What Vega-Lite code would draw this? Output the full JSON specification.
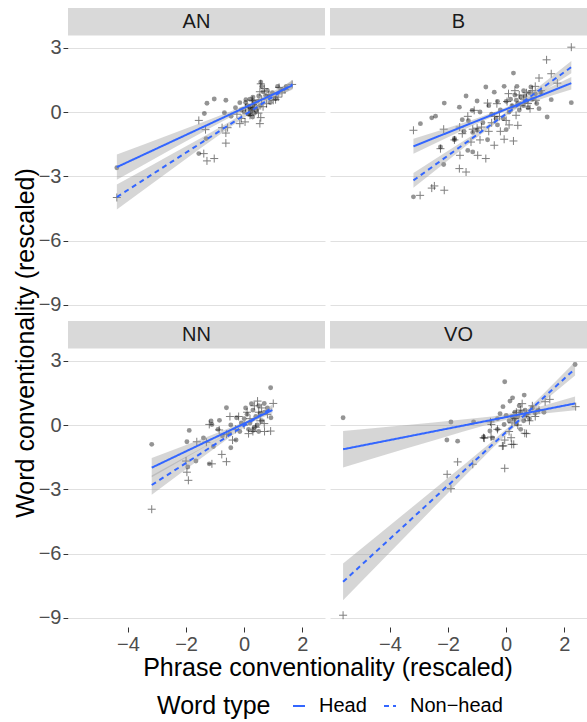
{
"$schema": "https://vega.github.io/schema/vega-lite/v6.json",
"background": "white",
"padding": {"left": 14, "top": 7, "right": 0, "bottom": 0},
"config": {
 "font": "Liberation Sans",
 "view": {"stroke": null},
 "axis": {"labelFont": "Liberation Sans", "labelFontSize": 20, "labelColor": "#4d4d4d", "tickColor": "#333333", "tickSize": 5, "tickWidth": 1, "domain": false, "gridColor": "#e0e0e0", "gridWidth": 1, "labelPadding": 2},
 "header": {"labels": false},
 "legend": {"labelFont": "Liberation Sans", "titleFont": "Liberation Sans"}
},
"title": {"text": "Word conventionality (rescaled)", "orient": "left", "anchor": "middle", "fontSize": 25, "fontWeight": "normal", "color": "black", "font": "Liberation Sans", "offset": -1, "dx": 20},
"data": {"values": [
 {"kind":"strip","panel":"AN"},{"kind":"strip","panel":"B"},{"kind":"strip","panel":"NN"},{"kind":"strip","panel":"VO"},

 {"kind":"fit","panel":"AN","type":"Head","x":-4.38,"y":-2.57,"lo":-3.155,"hi":-1.985},
 {"kind":"fit","panel":"AN","type":"Head","x":-3.5,"y":-2.014,"lo":-2.49,"hi":-1.538},
 {"kind":"fit","panel":"AN","type":"Head","x":-2.5,"y":-1.382,"lo":-1.736,"hi":-1.028},
 {"kind":"fit","panel":"AN","type":"Head","x":-1.5,"y":-0.75,"lo":-0.986,"hi":-0.514},
 {"kind":"fit","panel":"AN","type":"Head","x":-0.5,"y":-0.118,"lo":-0.251,"hi":0.015},
 {"kind":"fit","panel":"AN","type":"Head","x":0.2,"y":0.325,"lo":0.225,"hi":0.425},
 {"kind":"fit","panel":"AN","type":"Head","x":1.0,"y":0.83,"lo":0.688,"hi":0.972},
 {"kind":"fit","panel":"AN","type":"Head","x":1.66,"y":1.247,"lo":1.038,"hi":1.456},
 {"kind":"fit","panel":"AN","type":"Non-head","x":-4.38,"y":-3.97,"lo":-4.555,"hi":-3.385},
 {"kind":"fit","panel":"AN","type":"Non-head","x":-3.5,"y":-3.202,"lo":-3.678,"hi":-2.726},
 {"kind":"fit","panel":"AN","type":"Non-head","x":-2.5,"y":-2.329,"lo":-2.683,"hi":-1.975},
 {"kind":"fit","panel":"AN","type":"Non-head","x":-1.5,"y":-1.457,"lo":-1.693,"hi":-1.221},
 {"kind":"fit","panel":"AN","type":"Non-head","x":-0.5,"y":-0.584,"lo":-0.717,"hi":-0.451},
 {"kind":"fit","panel":"AN","type":"Non-head","x":0.2,"y":0.026,"lo":-0.074,"hi":0.126},
 {"kind":"fit","panel":"AN","type":"Non-head","x":1.0,"y":0.724,"lo":0.582,"hi":0.866},
 {"kind":"fit","panel":"AN","type":"Non-head","x":1.66,"y":1.3,"lo":1.091,"hi":1.509},

 {"kind":"fit","panel":"B","type":"Head","x":-3.19,"y":-1.6,"lo":-1.95,"hi":-1.25},
 {"kind":"fit","panel":"B","type":"Head","x":-2.2,"y":-1.062,"lo":-1.304,"hi":-0.82},
 {"kind":"fit","panel":"B","type":"Head","x":-1.2,"y":-0.519,"lo":-0.658,"hi":-0.38},
 {"kind":"fit","panel":"B","type":"Head","x":-0.2,"y":0.024,"lo":-0.056,"hi":0.104},
 {"kind":"fit","panel":"B","type":"Head","x":0.8,"y":0.567,"lo":0.428,"hi":0.706},
 {"kind":"fit","panel":"B","type":"Head","x":1.6,"y":1.001,"lo":0.781,"hi":1.221},
 {"kind":"fit","panel":"B","type":"Head","x":2.24,"y":1.349,"lo":1.059,"hi":1.639},
 {"kind":"fit","panel":"B","type":"Non-head","x":-3.19,"y":-3.19,"lo":-3.54,"hi":-2.84},
 {"kind":"fit","panel":"B","type":"Non-head","x":-2.2,"y":-2.226,"lo":-2.468,"hi":-1.984},
 {"kind":"fit","panel":"B","type":"Non-head","x":-1.2,"y":-1.252,"lo":-1.391,"hi":-1.113},
 {"kind":"fit","panel":"B","type":"Non-head","x":-0.2,"y":-0.278,"lo":-0.358,"hi":-0.198},
 {"kind":"fit","panel":"B","type":"Non-head","x":0.8,"y":0.696,"lo":0.557,"hi":0.835},
 {"kind":"fit","panel":"B","type":"Non-head","x":1.6,"y":1.475,"lo":1.255,"hi":1.695},
 {"kind":"fit","panel":"B","type":"Non-head","x":2.24,"y":2.1,"lo":1.81,"hi":2.39},

 {"kind":"fit","panel":"NN","type":"Head","x":-3.18,"y":-1.99,"lo":-2.44,"hi":-1.54},
 {"kind":"fit","panel":"NN","type":"Head","x":-2.2,"y":-1.355,"lo":-1.675,"hi":-1.035},
 {"kind":"fit","panel":"NN","type":"Head","x":-1.2,"y":-0.707,"lo":-0.9,"hi":-0.514},
 {"kind":"fit","panel":"NN","type":"Head","x":-0.4,"y":-0.189,"lo":-0.294,"hi":-0.084},
 {"kind":"fit","panel":"NN","type":"Head","x":0.1,"y":0.135,"lo":0.055,"hi":0.215},
 {"kind":"fit","panel":"NN","type":"Head","x":0.97,"y":0.699,"lo":0.557,"hi":0.841},
 {"kind":"fit","panel":"NN","type":"Non-head","x":-3.18,"y":-2.8,"lo":-3.25,"hi":-2.35},
 {"kind":"fit","panel":"NN","type":"Non-head","x":-2.2,"y":-1.945,"lo":-2.265,"hi":-1.625},
 {"kind":"fit","panel":"NN","type":"Non-head","x":-1.2,"y":-1.073,"lo":-1.266,"hi":-0.88},
 {"kind":"fit","panel":"NN","type":"Non-head","x":-0.4,"y":-0.376,"lo":-0.481,"hi":-0.271},
 {"kind":"fit","panel":"NN","type":"Non-head","x":0.1,"y":0.06,"lo":-0.02,"hi":0.14},
 {"kind":"fit","panel":"NN","type":"Non-head","x":0.97,"y":0.819,"lo":0.677,"hi":0.961},

 {"kind":"fit","panel":"VO","type":"Head","x":-5.61,"y":-1.13,"lo":-1.985,"hi":-0.275},
 {"kind":"fit","panel":"VO","type":"Head","x":-4.5,"y":-0.833,"lo":-1.531,"hi":-0.135},
 {"kind":"fit","panel":"VO","type":"Head","x":-3.5,"y":-0.565,"lo":-1.122,"hi":-0.008},
 {"kind":"fit","panel":"VO","type":"Head","x":-2.5,"y":-0.297,"lo":-0.715,"hi":0.121},
 {"kind":"fit","panel":"VO","type":"Head","x":-1.5,"y":-0.029,"lo":-0.313,"hi":0.255},
 {"kind":"fit","panel":"VO","type":"Head","x":-0.5,"y":0.239,"lo":0.073,"hi":0.405},
 {"kind":"fit","panel":"VO","type":"Head","x":0.3,"y":0.454,"lo":0.334,"hi":0.574},
 {"kind":"fit","panel":"VO","type":"Head","x":1.3,"y":0.722,"lo":0.535,"hi":0.909},
 {"kind":"fit","panel":"VO","type":"Head","x":2.37,"y":1.009,"lo":0.689,"hi":1.329},
 {"kind":"fit","panel":"VO","type":"Non-head","x":-5.61,"y":-7.32,"lo":-8.175,"hi":-6.465},
 {"kind":"fit","panel":"VO","type":"Non-head","x":-4.5,"y":-5.936,"lo":-6.634,"hi":-5.238},
 {"kind":"fit","panel":"VO","type":"Non-head","x":-3.5,"y":-4.689,"lo":-5.246,"hi":-4.132},
 {"kind":"fit","panel":"VO","type":"Non-head","x":-2.5,"y":-3.442,"lo":-3.86,"hi":-3.024},
 {"kind":"fit","panel":"VO","type":"Non-head","x":-1.5,"y":-2.194,"lo":-2.478,"hi":-1.91},
 {"kind":"fit","panel":"VO","type":"Non-head","x":-0.5,"y":-0.947,"lo":-1.113,"hi":-0.781},
 {"kind":"fit","panel":"VO","type":"Non-head","x":0.3,"y":0.05,"lo":-0.07,"hi":0.17},
 {"kind":"fit","panel":"VO","type":"Non-head","x":1.3,"y":1.298,"lo":1.111,"hi":1.485},
 {"kind":"fit","panel":"VO","type":"Non-head","x":2.37,"y":2.632,"lo":2.312,"hi":2.952},

 {"kind":"pt","panel":"AN","type":"Head","x":-4.38,"y":-2.6},{"kind":"pt","panel":"AN","type":"Head","x":-1.28,"y":0.41},{"kind":"pt","panel":"AN","type":"Head","x":-1.03,"y":0.61},{"kind":"pt","panel":"AN","type":"Head","x":-0.63,"y":0.55},{"kind":"pt","panel":"AN","type":"Head","x":-1.37,"y":-0.07},{"kind":"pt","panel":"AN","type":"Head","x":-1.56,"y":-1.94},{"kind":"pt","panel":"AN","type":"Head","x":-1.31,"y":-1.24},{"kind":"pt","panel":"AN","type":"Head","x":-0.68,"y":-0.03},{"kind":"pt","panel":"AN","type":"Head","x":-0.15,"y":0.44},{"kind":"pt","panel":"AN","type":"Head","x":0.06,"y":0.58},{"kind":"pt","panel":"AN","type":"Head","x":0.2,"y":0.6},{"kind":"pt","panel":"AN","type":"Head","x":0.31,"y":0.52},{"kind":"pt","panel":"AN","type":"Head","x":0.57,"y":1.4},{"kind":"pt","panel":"AN","type":"Head","x":0.6,"y":1.2},{"kind":"pt","panel":"AN","type":"Head","x":1.15,"y":1.2},{"kind":"pt","panel":"AN","type":"Head","x":0.4,"y":0.08},{"kind":"pt","panel":"AN","type":"Head","x":0.74,"y":0.78},{"kind":"pt","panel":"AN","type":"Head","x":0.86,"y":0.72},{"kind":"pt","panel":"AN","type":"Head","x":0.97,"y":0.9},{"kind":"pt","panel":"AN","type":"Head","x":1.08,"y":0.65},{"kind":"pt","panel":"AN","type":"Head","x":0.0,"y":0.0},{"kind":"pt","panel":"AN","type":"Head","x":0.17,"y":0.24},{"kind":"pt","panel":"AN","type":"Head","x":0.29,"y":-0.23},{"kind":"pt","panel":"AN","type":"Head","x":0.1,"y":0.3},{"kind":"pt","panel":"AN","type":"Head","x":0.35,"y":0.35},{"kind":"pt","panel":"AN","type":"Head","x":0.45,"y":0.5},{"kind":"pt","panel":"AN","type":"Head","x":0.25,"y":0.1},{"kind":"pt","panel":"AN","type":"Head","x":0.5,"y":0.75},{"kind":"pt","panel":"AN","type":"Head","x":0.65,"y":0.95},{"kind":"pt","panel":"AN","type":"Head","x":0.8,"y":1.0},{"kind":"pt","panel":"AN","type":"Head","x":1.3,"y":1.05},{"kind":"pt","panel":"AN","type":"Head","x":1.45,"y":1.2},{"kind":"pt","panel":"AN","type":"Head","x":-0.3,"y":0.2},{"kind":"pt","panel":"AN","type":"Head","x":0.15,"y":-0.1},{"kind":"pt","panel":"AN","type":"Head","x":0.35,"y":-0.05},{"kind":"pt","panel":"AN","type":"Head","x":0.55,"y":0.3},{"kind":"pt","panel":"AN","type":"Head","x":0.9,"y":0.45},{"kind":"pt","panel":"AN","type":"Head","x":-0.1,"y":0.1},{"kind":"pt","panel":"AN","type":"Head","x":0.05,"y":0.45},{"kind":"pt","panel":"AN","type":"Head","x":0.3,"y":0.7},{"kind":"pt","panel":"AN","type":"Head","x":-0.45,"y":-0.2},{"kind":"pt","panel":"AN","type":"Head","x":0.2,"y":-0.1},{"kind":"pt","panel":"AN","type":"Head","x":0.25,"y":0.2},{"kind":"pt","panel":"AN","type":"Head","x":0.3,"y":0.15},{"kind":"pt","panel":"AN","type":"Head","x":0.22,"y":0.02},
 {"kind":"pt","panel":"AN","type":"Non-head","x":-4.38,"y":-3.99},{"kind":"pt","panel":"AN","type":"Non-head","x":-1.56,"y":-0.39},{"kind":"pt","panel":"AN","type":"Non-head","x":-1.33,"y":-0.82},{"kind":"pt","panel":"AN","type":"Non-head","x":-1.39,"y":-1.94},{"kind":"pt","panel":"AN","type":"Non-head","x":-1.28,"y":-2.28},{"kind":"pt","panel":"AN","type":"Non-head","x":-1.03,"y":-2.17},{"kind":"pt","panel":"AN","type":"Non-head","x":-0.63,"y":-1.45},{"kind":"pt","panel":"AN","type":"Non-head","x":-0.63,"y":-0.98},{"kind":"pt","panel":"AN","type":"Non-head","x":-0.76,"y":-0.73},{"kind":"pt","panel":"AN","type":"Non-head","x":-0.57,"y":-0.73},{"kind":"pt","panel":"AN","type":"Non-head","x":-0.15,"y":-0.54},{"kind":"pt","panel":"AN","type":"Non-head","x":0.03,"y":-0.46},{"kind":"pt","panel":"AN","type":"Non-head","x":0.54,"y":-0.54},{"kind":"pt","panel":"AN","type":"Non-head","x":0.57,"y":-0.26},{"kind":"pt","panel":"AN","type":"Non-head","x":0.49,"y":-0.05},{"kind":"pt","panel":"AN","type":"Non-head","x":0.29,"y":0.55},{"kind":"pt","panel":"AN","type":"Non-head","x":0.54,"y":0.95},{"kind":"pt","panel":"AN","type":"Non-head","x":0.57,"y":1.32},{"kind":"pt","panel":"AN","type":"Non-head","x":1.08,"y":0.58},{"kind":"pt","panel":"AN","type":"Non-head","x":1.65,"y":1.29},{"kind":"pt","panel":"AN","type":"Non-head","x":0.77,"y":0.39},{"kind":"pt","panel":"AN","type":"Non-head","x":1.0,"y":0.55},{"kind":"pt","panel":"AN","type":"Non-head","x":1.17,"y":0.7},{"kind":"pt","panel":"AN","type":"Non-head","x":0.15,"y":0.1},{"kind":"pt","panel":"AN","type":"Non-head","x":0.35,"y":0.2},{"kind":"pt","panel":"AN","type":"Non-head","x":0.6,"y":0.6},{"kind":"pt","panel":"AN","type":"Non-head","x":0.85,"y":0.8},{"kind":"pt","panel":"AN","type":"Non-head","x":1.3,"y":0.9},{"kind":"pt","panel":"AN","type":"Non-head","x":1.4,"y":1.05},{"kind":"pt","panel":"AN","type":"Non-head","x":0.2,"y":-0.15},{"kind":"pt","panel":"AN","type":"Non-head","x":-0.1,"y":-0.3},{"kind":"pt","panel":"AN","type":"Non-head","x":0.45,"y":0.15},{"kind":"pt","panel":"AN","type":"Non-head","x":0.7,"y":1.1},{"kind":"pt","panel":"AN","type":"Non-head","x":1.2,"y":1.15},{"kind":"pt","panel":"AN","type":"Non-head","x":0.05,"y":0.2},{"kind":"pt","panel":"AN","type":"Non-head","x":0.3,"y":0.35},{"kind":"pt","panel":"AN","type":"Non-head","x":0.65,"y":0.25},{"kind":"pt","panel":"AN","type":"Non-head","x":-0.25,"y":-0.1},

 {"kind":"pt","panel":"B","type":"Head","x":-3.19,"y":-3.96},{"kind":"pt","panel":"B","type":"Head","x":-2.95,"y":-0.54},{"kind":"pt","panel":"B","type":"Head","x":-2.56,"y":-0.27},{"kind":"pt","panel":"B","type":"Head","x":-2.43,"y":-0.19},{"kind":"pt","panel":"B","type":"Head","x":-2.13,"y":0.42},{"kind":"pt","panel":"B","type":"Head","x":-1.61,"y":0.23},{"kind":"pt","panel":"B","type":"Head","x":-1.38,"y":0.75},{"kind":"pt","panel":"B","type":"Head","x":-1.17,"y":0.08},{"kind":"pt","panel":"B","type":"Head","x":-1.0,"y":0.52},{"kind":"pt","panel":"B","type":"Head","x":-0.7,"y":1.17},{"kind":"pt","panel":"B","type":"Head","x":-0.41,"y":0.93},{"kind":"pt","panel":"B","type":"Head","x":-0.07,"y":1.2},{"kind":"pt","panel":"B","type":"Head","x":0.25,"y":1.82},{"kind":"pt","panel":"B","type":"Head","x":0.37,"y":1.2},{"kind":"pt","panel":"B","type":"Head","x":0.6,"y":1.0},{"kind":"pt","panel":"B","type":"Head","x":0.85,"y":1.17},{"kind":"pt","panel":"B","type":"Head","x":1.55,"y":0.58},{"kind":"pt","panel":"B","type":"Head","x":2.24,"y":0.44},{"kind":"pt","panel":"B","type":"Head","x":1.41,"y":-0.23},{"kind":"pt","panel":"B","type":"Head","x":1.13,"y":0.16},{"kind":"pt","panel":"B","type":"Head","x":-2.26,"y":-1.63},{"kind":"pt","panel":"B","type":"Head","x":-2.15,"y":-2.45},{"kind":"pt","panel":"B","type":"Head","x":-1.78,"y":-1.3},{"kind":"pt","panel":"B","type":"Head","x":-1.51,"y":-0.36},{"kind":"pt","panel":"B","type":"Head","x":-1.32,"y":-1.79},{"kind":"pt","panel":"B","type":"Head","x":-1.15,"y":-1.86},{"kind":"pt","panel":"B","type":"Head","x":-0.64,"y":-1.29},{"kind":"pt","panel":"B","type":"Head","x":-0.35,"y":-0.31},{"kind":"pt","panel":"B","type":"Head","x":0.0,"y":-0.82},{"kind":"pt","panel":"B","type":"Head","x":-1.0,"y":-0.85},{"kind":"pt","panel":"B","type":"Head","x":-1.15,"y":-0.95},{"kind":"pt","panel":"B","type":"Head","x":-1.78,"y":-1.23},{"kind":"pt","panel":"B","type":"Head","x":-0.6,"y":0.3},{"kind":"pt","panel":"B","type":"Head","x":-0.3,"y":0.5},{"kind":"pt","panel":"B","type":"Head","x":0.0,"y":0.5},{"kind":"pt","panel":"B","type":"Head","x":0.2,"y":0.3},{"kind":"pt","panel":"B","type":"Head","x":0.4,"y":0.4},{"kind":"pt","panel":"B","type":"Head","x":0.5,"y":0.7},{"kind":"pt","panel":"B","type":"Head","x":0.7,"y":0.5},{"kind":"pt","panel":"B","type":"Head","x":0.9,"y":0.6},{"kind":"pt","panel":"B","type":"Head","x":1.0,"y":0.85},{"kind":"pt","panel":"B","type":"Head","x":0.3,"y":0.8},{"kind":"pt","panel":"B","type":"Head","x":0.6,"y":0.3},{"kind":"pt","panel":"B","type":"Head","x":0.8,"y":0.9},{"kind":"pt","panel":"B","type":"Head","x":0.15,"y":0.6},{"kind":"pt","panel":"B","type":"Head","x":-0.2,"y":0.1},{"kind":"pt","panel":"B","type":"Head","x":0.45,"y":0.1},{"kind":"pt","panel":"B","type":"Head","x":0.65,"y":0.75},{"kind":"pt","panel":"B","type":"Head","x":1.2,"y":0.9},{"kind":"pt","panel":"B","type":"Head","x":0.35,"y":0.55},{"kind":"pt","panel":"B","type":"Head","x":-0.8,"y":-0.5},{"kind":"pt","panel":"B","type":"Head","x":-0.5,"y":-0.1},{"kind":"pt","panel":"B","type":"Head","x":-0.9,"y":0.0},{"kind":"pt","panel":"B","type":"Head","x":-1.3,"y":-0.4},{"kind":"pt","panel":"B","type":"Head","x":-0.1,"y":-0.3},{"kind":"pt","panel":"B","type":"Head","x":0.1,"y":0.0},{"kind":"pt","panel":"B","type":"Head","x":0.75,"y":0.2},{"kind":"pt","panel":"B","type":"Head","x":1.05,"y":0.4},{"kind":"pt","panel":"B","type":"Head","x":-1.45,"y":-0.9},{"kind":"pt","panel":"B","type":"Head","x":-0.3,"y":-0.6},
 {"kind":"pt","panel":"B","type":"Non-head","x":2.24,"y":3.03},{"kind":"pt","panel":"B","type":"Non-head","x":1.39,"y":2.44},{"kind":"pt","panel":"B","type":"Non-head","x":1.55,"y":1.79},{"kind":"pt","panel":"B","type":"Non-head","x":1.13,"y":1.59},{"kind":"pt","panel":"B","type":"Non-head","x":1.76,"y":1.35},{"kind":"pt","panel":"B","type":"Non-head","x":-3.19,"y":-0.85},{"kind":"pt","panel":"B","type":"Non-head","x":-2.15,"y":-0.8},{"kind":"pt","panel":"B","type":"Non-head","x":-2.26,"y":-1.71},{"kind":"pt","panel":"B","type":"Non-head","x":-1.61,"y":-2.64},{"kind":"pt","panel":"B","type":"Non-head","x":-1.38,"y":-2.8},{"kind":"pt","panel":"B","type":"Non-head","x":-2.47,"y":-3.45},{"kind":"pt","panel":"B","type":"Non-head","x":-2.56,"y":-3.55},{"kind":"pt","panel":"B","type":"Non-head","x":-2.13,"y":-3.65},{"kind":"pt","panel":"B","type":"Non-head","x":-2.96,"y":-3.89},{"kind":"pt","panel":"B","type":"Non-head","x":-1.59,"y":-2.02},{"kind":"pt","panel":"B","type":"Non-head","x":-0.98,"y":-2.02},{"kind":"pt","panel":"B","type":"Non-head","x":-0.7,"y":-2.17},{"kind":"pt","panel":"B","type":"Non-head","x":-0.41,"y":-1.55},{"kind":"pt","panel":"B","type":"Non-head","x":-0.07,"y":-1.27},{"kind":"pt","panel":"B","type":"Non-head","x":0.25,"y":-1.35},{"kind":"pt","panel":"B","type":"Non-head","x":-1.78,"y":-1.3},{"kind":"pt","panel":"B","type":"Non-head","x":-1.51,"y":-1.01},{"kind":"pt","panel":"B","type":"Non-head","x":-1.21,"y":-1.4},{"kind":"pt","panel":"B","type":"Non-head","x":-1.0,"y":-0.75},{"kind":"pt","panel":"B","type":"Non-head","x":-0.85,"y":-0.7},{"kind":"pt","panel":"B","type":"Non-head","x":-1.15,"y":-0.8},{"kind":"pt","panel":"B","type":"Non-head","x":-0.64,"y":0.42},{"kind":"pt","panel":"B","type":"Non-head","x":-0.32,"y":0.39},{"kind":"pt","panel":"B","type":"Non-head","x":-0.23,"y":-0.2},{"kind":"pt","panel":"B","type":"Non-head","x":0.0,"y":-0.39},{"kind":"pt","panel":"B","type":"Non-head","x":0.03,"y":0.49},{"kind":"pt","panel":"B","type":"Non-head","x":0.08,"y":0.86},{"kind":"pt","panel":"B","type":"Non-head","x":0.34,"y":-0.15},{"kind":"pt","panel":"B","type":"Non-head","x":0.4,"y":-0.62},{"kind":"pt","panel":"B","type":"Non-head","x":0.82,"y":0.16},{"kind":"pt","panel":"B","type":"Non-head","x":1.02,"y":0.55},{"kind":"pt","panel":"B","type":"Non-head","x":-1.1,"y":0.08},{"kind":"pt","panel":"B","type":"Non-head","x":-1.32,"y":-0.2},{"kind":"pt","panel":"B","type":"Non-head","x":0.6,"y":0.6},{"kind":"pt","panel":"B","type":"Non-head","x":0.7,"y":0.9},{"kind":"pt","panel":"B","type":"Non-head","x":0.9,"y":1.0},{"kind":"pt","panel":"B","type":"Non-head","x":0.5,"y":0.3},{"kind":"pt","panel":"B","type":"Non-head","x":0.2,"y":0.2},{"kind":"pt","panel":"B","type":"Non-head","x":-0.5,"y":-0.5},{"kind":"pt","panel":"B","type":"Non-head","x":-0.2,"y":-0.9},{"kind":"pt","panel":"B","type":"Non-head","x":0.1,"y":-0.6},{"kind":"pt","panel":"B","type":"Non-head","x":1.2,"y":1.0},{"kind":"pt","panel":"B","type":"Non-head","x":0.45,"y":0.8},{"kind":"pt","panel":"B","type":"Non-head","x":0.75,"y":0.4},{"kind":"pt","panel":"B","type":"Non-head","x":-0.9,"y":-1.3},{"kind":"pt","panel":"B","type":"Non-head","x":-0.4,"y":-0.2},{"kind":"pt","panel":"B","type":"Non-head","x":1.0,"y":1.2},{"kind":"pt","panel":"B","type":"Non-head","x":0.3,"y":1.0},{"kind":"pt","panel":"B","type":"Non-head","x":-0.6,"y":-0.9},{"kind":"pt","panel":"B","type":"Non-head","x":-1.6,"y":-0.7},

 {"kind":"pt","panel":"NN","type":"Head","x":-3.18,"y":-0.9},{"kind":"pt","panel":"NN","type":"Head","x":-1.89,"y":-0.25},{"kind":"pt","panel":"NN","type":"Head","x":-1.97,"y":-0.78},{"kind":"pt","panel":"NN","type":"Head","x":-1.94,"y":-1.96},{"kind":"pt","panel":"NN","type":"Head","x":-1.66,"y":-1.68},{"kind":"pt","panel":"NN","type":"Head","x":-1.2,"y":-1.81},{"kind":"pt","panel":"NN","type":"Head","x":-1.14,"y":0.19},{"kind":"pt","panel":"NN","type":"Head","x":-1.11,"y":0.03},{"kind":"pt","panel":"NN","type":"Head","x":-0.85,"y":0.22},{"kind":"pt","panel":"NN","type":"Head","x":-0.61,"y":0.81},{"kind":"pt","panel":"NN","type":"Head","x":-0.46,"y":0.0},{"kind":"pt","panel":"NN","type":"Head","x":-0.46,"y":-1.06},{"kind":"pt","panel":"NN","type":"Head","x":-0.26,"y":0.34},{"kind":"pt","panel":"NN","type":"Head","x":-0.28,"y":-0.7},{"kind":"pt","panel":"NN","type":"Head","x":0.91,"y":1.74},{"kind":"pt","panel":"NN","type":"Head","x":0.69,"y":1.01},{"kind":"pt","panel":"NN","type":"Head","x":0.92,"y":0.34},{"kind":"pt","panel":"NN","type":"Head","x":-1.06,"y":-1.0},{"kind":"pt","panel":"NN","type":"Head","x":0.0,"y":0.3},{"kind":"pt","panel":"NN","type":"Head","x":0.1,"y":0.5},{"kind":"pt","panel":"NN","type":"Head","x":0.2,"y":0.1},{"kind":"pt","panel":"NN","type":"Head","x":0.3,"y":0.7},{"kind":"pt","panel":"NN","type":"Head","x":0.4,"y":0.4},{"kind":"pt","panel":"NN","type":"Head","x":0.5,"y":0.9},{"kind":"pt","panel":"NN","type":"Head","x":0.6,"y":0.2},{"kind":"pt","panel":"NN","type":"Head","x":0.15,"y":-0.2},{"kind":"pt","panel":"NN","type":"Head","x":0.35,"y":-0.1},{"kind":"pt","panel":"NN","type":"Head","x":0.7,"y":0.6},{"kind":"pt","panel":"NN","type":"Head","x":0.05,"y":0.8},{"kind":"pt","panel":"NN","type":"Head","x":0.25,"y":1.0},{"kind":"pt","panel":"NN","type":"Head","x":0.45,"y":0.0},{"kind":"pt","panel":"NN","type":"Head","x":-0.1,"y":0.1},{"kind":"pt","panel":"NN","type":"Head","x":0.55,"y":0.55},{"kind":"pt","panel":"NN","type":"Head","x":0.8,"y":0.8},{"kind":"pt","panel":"NN","type":"Head","x":-0.5,"y":-0.4},{"kind":"pt","panel":"NN","type":"Head","x":-0.75,"y":-0.5},{"kind":"pt","panel":"NN","type":"Head","x":-0.15,"y":-0.3},{"kind":"pt","panel":"NN","type":"Head","x":0.3,"y":-0.25},{"kind":"pt","panel":"NN","type":"Head","x":0.5,"y":-0.3},{"kind":"pt","panel":"NN","type":"Head","x":-1.4,"y":-0.6},{"kind":"pt","panel":"NN","type":"Head","x":-0.9,"y":-0.2},
 {"kind":"pt","panel":"NN","type":"Non-head","x":-3.18,"y":-3.93},{"kind":"pt","panel":"NN","type":"Non-head","x":-1.92,"y":-2.58},{"kind":"pt","panel":"NN","type":"Non-head","x":-1.97,"y":-2.2},{"kind":"pt","panel":"NN","type":"Non-head","x":-2.0,"y":-1.68},{"kind":"pt","panel":"NN","type":"Non-head","x":-1.63,"y":-0.78},{"kind":"pt","panel":"NN","type":"Non-head","x":-1.11,"y":-1.81},{"kind":"pt","panel":"NN","type":"Non-head","x":-0.77,"y":-1.37},{"kind":"pt","panel":"NN","type":"Non-head","x":-0.61,"y":-1.71},{"kind":"pt","panel":"NN","type":"Non-head","x":-0.86,"y":-0.23},{"kind":"pt","panel":"NN","type":"Non-head","x":-0.49,"y":0.4},{"kind":"pt","panel":"NN","type":"Non-head","x":-0.61,"y":-0.43},{"kind":"pt","panel":"NN","type":"Non-head","x":-0.19,"y":0.4},{"kind":"pt","panel":"NN","type":"Non-head","x":0.46,"y":1.12},{"kind":"pt","panel":"NN","type":"Non-head","x":0.91,"y":-0.28},{"kind":"pt","panel":"NN","type":"Non-head","x":1.0,"y":1.01},{"kind":"pt","panel":"NN","type":"Non-head","x":0.69,"y":0.07},{"kind":"pt","panel":"NN","type":"Non-head","x":-1.2,"y":0.03},{"kind":"pt","panel":"NN","type":"Non-head","x":0.0,"y":0.0},{"kind":"pt","panel":"NN","type":"Non-head","x":0.2,"y":0.3},{"kind":"pt","panel":"NN","type":"Non-head","x":0.3,"y":-0.3},{"kind":"pt","panel":"NN","type":"Non-head","x":0.5,"y":0.6},{"kind":"pt","panel":"NN","type":"Non-head","x":0.6,"y":0.8},{"kind":"pt","panel":"NN","type":"Non-head","x":0.8,"y":0.5},{"kind":"pt","panel":"NN","type":"Non-head","x":0.4,"y":-0.1},{"kind":"pt","panel":"NN","type":"Non-head","x":0.1,"y":0.6},{"kind":"pt","panel":"NN","type":"Non-head","x":-0.3,"y":-0.2},{"kind":"pt","panel":"NN","type":"Non-head","x":0.7,"y":-0.3},{"kind":"pt","panel":"NN","type":"Non-head","x":0.35,"y":0.9},{"kind":"pt","panel":"NN","type":"Non-head","x":-1.3,"y":-0.8},{"kind":"pt","panel":"NN","type":"Non-head","x":-0.4,"y":-0.7},{"kind":"pt","panel":"NN","type":"Non-head","x":0.15,"y":-0.4},{"kind":"pt","panel":"NN","type":"Non-head","x":0.55,"y":0.2},

 {"kind":"pt","panel":"VO","type":"Head","x":-5.61,"y":0.34},{"kind":"pt","panel":"VO","type":"Head","x":2.37,"y":2.83},{"kind":"pt","panel":"VO","type":"Head","x":-0.05,"y":2.02},{"kind":"pt","panel":"VO","type":"Head","x":-1.9,"y":0.14},{"kind":"pt","panel":"VO","type":"Head","x":-2.04,"y":-0.7},{"kind":"pt","panel":"VO","type":"Head","x":-1.67,"y":-0.75},{"kind":"pt","panel":"VO","type":"Head","x":-1.12,"y":0.14},{"kind":"pt","panel":"VO","type":"Head","x":0.22,"y":1.27},{"kind":"pt","panel":"VO","type":"Head","x":0.62,"y":1.4},{"kind":"pt","panel":"VO","type":"Head","x":-0.11,"y":0.86},{"kind":"pt","panel":"VO","type":"Head","x":0.13,"y":1.12},{"kind":"pt","panel":"VO","type":"Head","x":-0.21,"y":0.53},{"kind":"pt","panel":"VO","type":"Head","x":-0.56,"y":-0.28},{"kind":"pt","panel":"VO","type":"Head","x":-0.3,"y":-0.2},{"kind":"pt","panel":"VO","type":"Head","x":-0.78,"y":-0.56},{"kind":"pt","panel":"VO","type":"Head","x":-0.47,"y":-0.6},{"kind":"pt","panel":"VO","type":"Head","x":-0.07,"y":0.03},{"kind":"pt","panel":"VO","type":"Head","x":0.28,"y":0.26},{"kind":"pt","panel":"VO","type":"Head","x":0.5,"y":-0.2},{"kind":"pt","panel":"VO","type":"Head","x":1.3,"y":0.6},{"kind":"pt","panel":"VO","type":"Head","x":0.9,"y":0.8},{"kind":"pt","panel":"VO","type":"Head","x":0.7,"y":0.5},{"kind":"pt","panel":"VO","type":"Head","x":0.5,"y":0.6},{"kind":"pt","panel":"VO","type":"Head","x":0.4,"y":0.4},{"kind":"pt","panel":"VO","type":"Head","x":1.0,"y":0.55},{"kind":"pt","panel":"VO","type":"Head","x":0.6,"y":0.2},{"kind":"pt","panel":"VO","type":"Head","x":0.3,"y":0.6},{"kind":"pt","panel":"VO","type":"Head","x":0.2,"y":0.4},{"kind":"pt","panel":"VO","type":"Head","x":0.8,"y":0.3},{"kind":"pt","panel":"VO","type":"Head","x":0.1,"y":0.2},{"kind":"pt","panel":"VO","type":"Head","x":0.45,"y":0.9},{"kind":"pt","panel":"VO","type":"Head","x":1.1,"y":0.7},{"kind":"pt","panel":"VO","type":"Head","x":0.0,"y":0.45},{"kind":"pt","panel":"VO","type":"Head","x":0.65,"y":0.7},{"kind":"pt","panel":"VO","type":"Head","x":0.35,"y":0.05},{"kind":"pt","panel":"VO","type":"Head","x":-0.3,"y":0.3},
 {"kind":"pt","panel":"VO","type":"Non-head","x":2.39,"y":0.86},{"kind":"pt","panel":"VO","type":"Non-head","x":1.34,"y":1.09},{"kind":"pt","panel":"VO","type":"Non-head","x":1.13,"y":0.7},{"kind":"pt","panel":"VO","type":"Non-head","x":0.5,"y":0.7},{"kind":"pt","panel":"VO","type":"Non-head","x":0.7,"y":0.5},{"kind":"pt","panel":"VO","type":"Non-head","x":0.65,"y":0.4},{"kind":"pt","panel":"VO","type":"Non-head","x":-0.54,"y":0.15},{"kind":"pt","panel":"VO","type":"Non-head","x":-0.78,"y":-0.59},{"kind":"pt","panel":"VO","type":"Non-head","x":-0.05,"y":-0.7},{"kind":"pt","panel":"VO","type":"Non-head","x":0.17,"y":-0.59},{"kind":"pt","panel":"VO","type":"Non-head","x":0.26,"y":-0.9},{"kind":"pt","panel":"VO","type":"Non-head","x":0.64,"y":-0.38},{"kind":"pt","panel":"VO","type":"Non-head","x":-0.3,"y":-0.2},{"kind":"pt","panel":"VO","type":"Non-head","x":-0.1,"y":-0.97},{"kind":"pt","panel":"VO","type":"Non-head","x":-0.05,"y":-2.02},{"kind":"pt","panel":"VO","type":"Non-head","x":-1.67,"y":-1.72},{"kind":"pt","panel":"VO","type":"Non-head","x":-1.15,"y":-1.83},{"kind":"pt","panel":"VO","type":"Non-head","x":-2.03,"y":-2.3},{"kind":"pt","panel":"VO","type":"Non-head","x":-1.9,"y":-2.97},{"kind":"pt","panel":"VO","type":"Non-head","x":-5.61,"y":-8.88},{"kind":"pt","panel":"VO","type":"Non-head","x":-0.13,"y":-0.98},{"kind":"pt","panel":"VO","type":"Non-head","x":0.19,"y":-0.9},{"kind":"pt","panel":"VO","type":"Non-head","x":0.7,"y":-0.4},{"kind":"pt","panel":"VO","type":"Non-head","x":-0.75,"y":-0.61},{"kind":"pt","panel":"VO","type":"Non-head","x":-0.52,"y":-0.56},{"kind":"pt","panel":"VO","type":"Non-head","x":-0.51,"y":0.03},{"kind":"pt","panel":"VO","type":"Non-head","x":0.3,"y":0.3},{"kind":"pt","panel":"VO","type":"Non-head","x":0.4,"y":0.0},{"kind":"pt","panel":"VO","type":"Non-head","x":0.9,"y":0.9},{"kind":"pt","panel":"VO","type":"Non-head","x":1.0,"y":0.4},{"kind":"pt","panel":"VO","type":"Non-head","x":0.55,"y":1.0},{"kind":"pt","panel":"VO","type":"Non-head","x":0.1,"y":-0.3},{"kind":"pt","panel":"VO","type":"Non-head","x":0.8,"y":0.2},{"kind":"pt","panel":"VO","type":"Non-head","x":0.35,"y":0.6},{"kind":"pt","panel":"VO","type":"Non-head","x":1.5,"y":1.2},{"kind":"pt","panel":"VO","type":"Non-head","x":0.2,"y":0.1}
]},
"facet": {"field": "panel", "type": "nominal", "header": {"title": "Phrase conventionality (rescaled)", "titleOrient": "bottom", "labels": false, "labelExpr": "''", "labelFontSize": 1, "labelPadding": 0, "titleFontSize": 25, "titleFont": "Liberation Sans", "titleFontWeight": "normal", "titleColor": "black", "titlePadding": 2}},
"columns": 2,
"spacing": {"row": 6, "column": 5},
"spec": {
 "width": 257,
 "height": 306,
 "layer": [
  {"transform": [{"filter": "datum.kind === 'strip'"}],
   "mark": {"type": "rect", "color": "#d9d9d9"},
   "encoding": {
    "x": {"datum": -6.06, "type": "quantitative", "scale": {"domain": [-6.06, 2.78], "nice": false, "zero": false}, "axis": {"values": [-4, -2, 0, 2], "grid": false, "title": null}},
    "x2": {"datum": 2.78},
    "y": {"datum": 3.58, "type": "quantitative", "scale": {"domain": [-9.43, 4.86], "nice": false, "zero": false}, "axis": {"values": [-9, -6, -3, 0, 3], "grid": true, "title": null}},
    "y2": {"datum": 4.86}
   }},
  {"transform": [{"filter": "datum.kind === 'strip'"}],
   "mark": {"type": "text", "fontSize": 20, "color": "#1a1a1a", "font": "Liberation Sans"},
   "encoding": {
    "x": {"datum": -1.64, "type": "quantitative"},
    "y": {"datum": 4.22, "type": "quantitative"},
    "text": {"field": "panel"}
   }},
  {"transform": [{"filter": "datum.kind === 'pt' && datum.type === 'Head'"}],
   "mark": {"type": "point", "shape": "circle", "filled": true, "size": 24, "color": "black", "opacity": 0.42},
   "encoding": {"x": {"field": "x", "type": "quantitative"}, "y": {"field": "y", "type": "quantitative"}}},
  {"transform": [{"filter": "datum.kind === 'pt' && datum.type === 'Non-head'"}],
   "mark": {"type": "point", "shape": "M-1,0H1M0,-1V1", "filled": false, "size": 64, "stroke": "black", "strokeWidth": 1, "opacity": 0.5},
   "encoding": {"x": {"field": "x", "type": "quantitative"}, "y": {"field": "y", "type": "quantitative"}}},
  {"transform": [{"filter": "datum.kind === 'fit'"}],
   "mark": {"type": "area", "color": "#999999", "opacity": 0.4, "orient": "vertical"},
   "encoding": {"x": {"field": "x", "type": "quantitative"}, "y": {"field": "lo", "type": "quantitative"}, "y2": {"field": "hi"}, "detail": {"field": "type"}}},
  {"transform": [{"filter": "datum.kind === 'fit'"}],
   "mark": {"type": "line", "color": "#3366FF", "strokeWidth": 2},
   "encoding": {"x": {"field": "x", "type": "quantitative"}, "y": {"field": "y", "type": "quantitative"},
    "strokeDash": {"field": "type", "type": "nominal", "scale": {"domain": ["Head", "Non-head"], "range": [[1, 0], [5, 4]]},
     "legend": {"title": "Word type", "orient": "none", "legendX": 89, "legendY": 688, "direction": "horizontal", "titleOrient": "left", "symbolType": "stroke", "symbolStrokeColor": "#3366FF", "symbolStrokeWidth": 2, "symbolSize": 144, "labelFontSize": 20, "labelColor": "black", "labelOffset": 10, "columnPadding": 13, "titlePadding": 18, "titleFontSize": 25, "titleFontWeight": "normal", "titleColor": "black", "labelExpr": "replace(datum.label, '-', '−')"}}}}
 ]
}
}
